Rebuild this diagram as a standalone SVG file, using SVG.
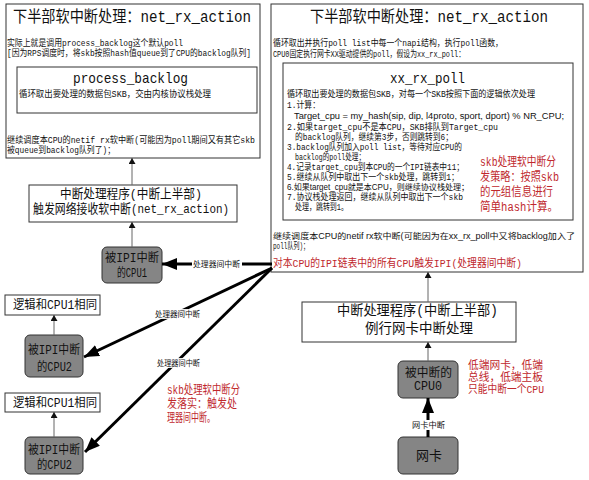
<svg xmlns="http://www.w3.org/2000/svg" width="589" height="480" viewBox="0 0 589 480">
<style>
text{font-family:"Liberation Mono","Noto Sans CJK SC",monospace;fill:#111}
.b{font-size:9px}
.n{font-family:"Liberation Sans","Noto Sans CJK SC",sans-serif;font-size:8.5px}
.ttl{font-size:16px}
.sub{font-size:15px}
.m{font-size:13px}
.c{font-size:12px}
.lb{font-size:8px}
.red{fill:#c0282d}
.box{fill:#fff;stroke:#333;stroke-width:1}
.cpu{fill:#858585;stroke:#333;stroke-width:1}
.thin{stroke:#666;stroke-width:1;fill:none}
.thick{stroke:#000;stroke-width:3;fill:none}
</style>
<defs>
<marker id="sm" markerUnits="userSpaceOnUse" markerWidth="6" markerHeight="7" refX="6" refY="3.5" orient="auto"><path d="M0,0 L6,3.5 L0,7 z" fill="#111"/></marker>
<marker id="big" markerUnits="userSpaceOnUse" markerWidth="15" markerHeight="12" refX="15" refY="6" orient="auto"><path d="M0,0 L15,6 L0,12 z" fill="#000"/></marker>
</defs>
<rect width="589" height="480" fill="#fff"/>

<g id="left-softirq">
<rect class="box" x="6" y="4" width="254" height="154"/>
<text class="ttl" x="13" y="22" textLength="238" lengthAdjust="spacingAndGlyphs">下半部软中断处理：net_rx_action</text>
<text class="b" x="7" y="46" textLength="176" lengthAdjust="spacingAndGlyphs">实际上就是调用process_backlog这个默认poll</text>
<text class="b" x="7" y="56" textLength="244" lengthAdjust="spacingAndGlyphs">[因为RPS调度时，将skb按照hash值queue到了CPU的backlog队列]</text>
<g id="process-backlog">
<rect class="box" x="17" y="67" width="240" height="46"/>
<text class="sub" x="73" y="83" textLength="115" lengthAdjust="spacingAndGlyphs">process_backlog</text>
<text class="b" x="19" y="97" textLength="192" lengthAdjust="spacingAndGlyphs">循环取出要处理的数据包SKB，交由内核协议栈处理</text>
</g>
<text class="b" x="7" y="143" textLength="248" lengthAdjust="spacingAndGlyphs">继续调度本CPU的netif rx软中断(可能因为poll期间又有其它skb</text>
<text class="b" x="7" y="153" textLength="108" lengthAdjust="spacingAndGlyphs">被queue到backlog队列了)；</text>
</g>

<g id="right-softirq">
<rect class="box" x="271" y="4" width="312" height="268"/>
<text class="ttl" x="310" y="22" textLength="238" lengthAdjust="spacingAndGlyphs">下半部软中断处理：net_rx_action</text>
<text class="b" x="273" y="46" textLength="230" lengthAdjust="spacingAndGlyphs">循环取出并执行poll list中每一个napi结构，执行poll函数，</text>
<text class="b" x="273" y="57" textLength="192" lengthAdjust="spacingAndGlyphs">CPU0固定执行网卡XX驱动提供的poll，假设为xx_rx_poll：</text>
<g id="xx-rx-poll">
<rect class="box" x="283" y="63" width="290" height="157"/>
<text class="sub" x="390" y="83" textLength="75" lengthAdjust="spacingAndGlyphs">xx_rx_poll</text>
<text class="b" x="287" y="97" textLength="248" lengthAdjust="spacingAndGlyphs">循环取出要处理的数据包SKB，对每一个SKB按照下面的逻辑依次处理</text>
<text class="b" x="287" y="108" textLength="33" lengthAdjust="spacingAndGlyphs">1.计算：</text>
<text class="n" x="294" y="119" textLength="270" lengthAdjust="spacingAndGlyphs">Target_cpu = my_hash(sip, dip, l4proto, sport, dport) % NR_CPU;</text>
<text class="b" x="287" y="130" textLength="211" lengthAdjust="spacingAndGlyphs">2.如果target_cpu不是本CPU，SKB排队到Target_cpu</text>
<text class="b" x="295" y="140" textLength="158" lengthAdjust="spacingAndGlyphs">的backlog队列，继续第3步，否则跳转到6；</text>
<text class="b" x="287" y="150" textLength="175" lengthAdjust="spacingAndGlyphs">3.backlog队列加入poll list，等待对应CPU的</text>
<text class="b" x="295" y="160" textLength="70" lengthAdjust="spacingAndGlyphs">backlog的poll处理；</text>
<text class="b" x="287" y="170" textLength="177" lengthAdjust="spacingAndGlyphs">4.记录target_cpu到本CPU的一个IPI链表中11；</text>
<text class="b" x="287" y="180" textLength="172" lengthAdjust="spacingAndGlyphs">5.继续从队列中取出下一个skb处理，跳转到1；</text>
<text class="n" x="287" y="190" textLength="182" lengthAdjust="spacingAndGlyphs">6.如果target_cpu就是本CPU，则继续协议栈处理；</text>
<text class="b" x="287" y="200" textLength="176" lengthAdjust="spacingAndGlyphs">7.协议栈处理返回，继续从队列中取出下一个skb</text>
<text class="b" x="295" y="210" textLength="53" lengthAdjust="spacingAndGlyphs">处理，跳转到1。</text>
<text class="c red" x="480" y="166" textLength="76" lengthAdjust="spacingAndGlyphs">skb处理软中断分</text>
<text class="c red" x="480" y="181" textLength="79" lengthAdjust="spacingAndGlyphs">发策略：按照skb</text>
<text class="c red" x="480" y="196" textLength="73" lengthAdjust="spacingAndGlyphs">的元组信息进行</text>
<text class="c red" x="480" y="211" textLength="78" lengthAdjust="spacingAndGlyphs">简单hash计算。</text>
</g>
<text class="n" x="273" y="239" textLength="302" lengthAdjust="spacingAndGlyphs">继续调度本CPU的netif rx软中断(可能因为在xx_rx_poll中又将backlog加入了</text>
<text class="b" x="273" y="249" textLength="36" lengthAdjust="spacingAndGlyphs">poll队列)；</text>
<text class="red" style="font-size:11px" x="273" y="267" textLength="249" lengthAdjust="spacingAndGlyphs">对本CPU的IPI链表中的所有CPU触发IPI(处理器间中断)</text>
</g>

<g id="left-tophalf">
<rect class="box" x="29" y="185" width="208" height="37"/>
<text class="m" x="60" y="197.5" textLength="142" lengthAdjust="spacingAndGlyphs">中断处理程序(中断上半部)</text>
<text class="m" x="33" y="212.5" textLength="196" lengthAdjust="spacingAndGlyphs">触发网络接收软中断(net_rx_action)</text>
</g>

<g id="cpu1">
<rect class="cpu" x="102" y="247" width="60" height="36" rx="5"/>
<text class="c" x="105" y="262" textLength="54" lengthAdjust="spacingAndGlyphs">被IPI中断</text>
<text class="c" x="117" y="277" textLength="30" lengthAdjust="spacingAndGlyphs">的CPU1</text>
</g>

<g id="same-1">
<rect class="box" x="5" y="295" width="95" height="20"/>
<text class="c" x="13" y="309" textLength="84" lengthAdjust="spacingAndGlyphs">逻辑和CPU1相同</text>
</g>
<g id="cpu2-a">
<rect class="cpu" x="25" y="335" width="58" height="42" rx="5"/>
<text class="c" x="28" y="354" textLength="52" lengthAdjust="spacingAndGlyphs">被IPI中断</text>
<text class="c" x="37" y="371" textLength="35" lengthAdjust="spacingAndGlyphs">的CPU2</text>
</g>
<g id="same-2">
<rect class="box" x="5" y="393" width="95" height="19"/>
<text class="c" x="13" y="407" textLength="84" lengthAdjust="spacingAndGlyphs">逻辑和CPU1相同</text>
</g>
<g id="cpu2-b">
<rect class="cpu" x="25" y="437" width="58" height="37" rx="5"/>
<text class="c" x="28" y="454" textLength="52" lengthAdjust="spacingAndGlyphs">被IPI中断</text>
<text class="c" x="37" y="469" textLength="35" lengthAdjust="spacingAndGlyphs">的CPU2</text>
</g>

<g id="note-left">
<text class="c red" x="167" y="394" textLength="73" lengthAdjust="spacingAndGlyphs">skb处理软中断分</text>
<text class="c red" x="167" y="408" textLength="70" lengthAdjust="spacingAndGlyphs">发落实：触发处</text>
<text class="c red" x="167" y="422" textLength="48" lengthAdjust="spacingAndGlyphs">理器间中断。</text>
</g>

<g id="right-tophalf">
<rect class="box" x="302" y="302" width="214" height="40"/>
<text class="m" style="font-size:14px" x="337" y="315" textLength="161" lengthAdjust="spacingAndGlyphs">中断处理程序(中断上半部)</text>
<text class="m" style="font-size:14px" x="365" y="333" textLength="108" lengthAdjust="spacingAndGlyphs">例行网卡中断处理</text>
</g>

<g id="cpu0">
<rect class="cpu" x="398" y="361" width="60" height="37" rx="5"/>
<text class="c" x="405" y="377" textLength="47" lengthAdjust="spacingAndGlyphs">被中断的</text>
<text class="c" x="414" y="390" textLength="28" lengthAdjust="spacingAndGlyphs">CPU0</text>
</g>
<g id="note-right">
<text class="red" style="font-size:11px" x="468" y="369" textLength="75" lengthAdjust="spacingAndGlyphs">低端网卡，低端</text>
<text class="red" style="font-size:11px" x="468" y="381" textLength="75" lengthAdjust="spacingAndGlyphs">总线，低端主板</text>
<text class="red" style="font-size:11px" x="468" y="393" textLength="76" lengthAdjust="spacingAndGlyphs">只能中断一个CPU</text>
</g>

<g id="nic">
<rect class="cpu" x="398" y="437" width="60" height="37" rx="5"/>
<text class="c" style="font-size:13px" x="416" y="460" textLength="26" lengthAdjust="spacingAndGlyphs">网卡</text>
</g>

<g id="connectors">
<line class="thin" x1="132" y1="185" x2="132" y2="158" marker-end="url(#sm)"/>
<line class="thin" x1="132" y1="247" x2="132" y2="222" marker-end="url(#sm)"/>
<line class="thin" x1="54" y1="335" x2="54" y2="315" marker-end="url(#sm)"/>
<line class="thin" x1="54" y1="437" x2="54" y2="412" marker-end="url(#sm)"/>
<line class="thin" x1="428" y1="302" x2="428" y2="272" marker-end="url(#sm)"/>
<line class="thin" x1="428" y1="361" x2="428" y2="342" marker-end="url(#sm)"/>
<line class="thick" x1="428" y1="437" x2="428" y2="398" marker-end="url(#big)"/>
<line class="thick" x1="272" y1="264" x2="162" y2="264" marker-end="url(#big)"/>
<line class="thick" x1="272" y1="268" x2="84" y2="357" marker-end="url(#big)"/>
<line class="thick" x1="272" y1="268" x2="85" y2="452" marker-end="url(#big)"/>
<rect x="192" y="259" width="50" height="10" fill="#fff"/>
<text class="lb" x="193" y="267" textLength="47" lengthAdjust="spacingAndGlyphs">处理器间中断</text>
<rect x="155" y="309" width="46" height="10" fill="#fff" opacity="0.9"/>
<text class="lb" x="155" y="317" textLength="45" lengthAdjust="spacingAndGlyphs">处理器间中断</text>
<rect x="156" y="358" width="46" height="10" fill="#fff" opacity="0.9"/>
<text class="lb" x="157" y="366" textLength="43" lengthAdjust="spacingAndGlyphs">处理器间中断</text>
<rect x="411" y="420" width="35" height="10" fill="#fff"/>
<text class="lb" x="412" y="428" textLength="33" lengthAdjust="spacingAndGlyphs">网卡中断</text>
</g>
</svg>
